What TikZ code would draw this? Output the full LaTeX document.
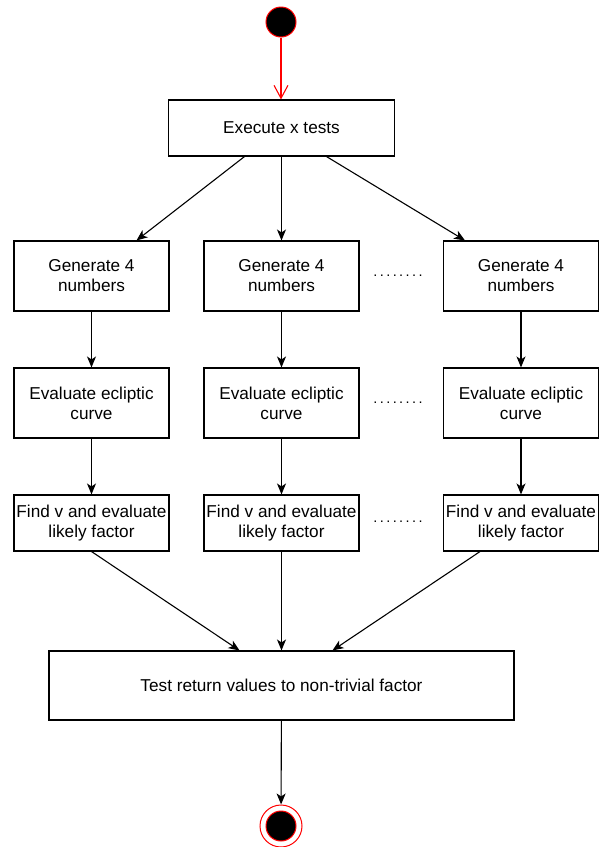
\documentclass[tikz,border=0pt]{standalone}
\usepackage{fontspec}
\setmainfont{Liberation Sans}
\usetikzlibrary{arrows.meta, positioning}

\begin{document}
\begin{tikzpicture}[x=1pt, y=-1pt,
    every node/.style={font=\fontsize{17.2}{20}\selectfont},
    box/.style={draw, line width=1.1pt, minimum width=155pt, minimum height=70pt, align=center, inner sep=0pt},
    arrow/.style={-{Stealth[length=11pt,width=9pt,inset=3pt]}, line width=1.1pt},
    startarrow/.style={-{Straight Barb[length=13pt,width=14pt]}, line width=1.1pt, draw=red},
    dotrow/.style={inner sep=0pt}
]
\useasboundingbox (0,0) rectangle (598,847);

% Start
\node[circle, draw=red, fill=black, line width=1pt, minimum size=30pt] (start) at (281,22) {};

% Execute
\node[box, minimum width=226pt, minimum height=56pt] (exec) at (281.5,128) {Execute x tests};

% Generate
\node[box] (gen1) at (91.5,276) {Generate 4\\numbers};
\node[box] (gen2) at (281.5,276) {Generate 4\\numbers};
\node[box] (gen3) at (521,276) {Generate 4\\numbers};

% Evaluate
\node[box] (eval1) at (91.5,403) {Evaluate ecliptic\\curve};
\node[box] (eval2) at (281.5,403) {Evaluate ecliptic\\curve};
\node[box] (eval3) at (521,403) {Evaluate ecliptic\\curve};

% Find v
\node[box, minimum height=56pt] (find1) at (91.5,523) {Find v and evaluate\\likely factor};
\node[box, minimum height=56pt] (find2) at (281.5,523) {Find v and evaluate\\likely factor};
\node[box, minimum height=56pt] (find3) at (521,523) {Find v and evaluate\\likely factor};

% Dots
\node[dotrow, font=\fontsize{14.5}{20}\selectfont] (dots1) at (398,276) {.\,.\,.\,.\,.\,.\,.\,.};
\node[dotrow, font=\fontsize{14.5}{20}\selectfont] (dots2) at (398,403) {.\,.\,.\,.\,.\,.\,.\,.};
\node[dotrow, font=\fontsize{14.5}{20}\selectfont] (dots3) at (398,522) {.\,.\,.\,.\,.\,.\,.\,.};

% Test
\node[box, minimum width=465pt, minimum height=69pt] (test) at (281.5,685.5) {Test return values to non-trivial factor};

% Stop
\node[circle, draw=red, line width=1pt, minimum size=42pt] (stop) at (281,826) {};
\node[circle, draw=red, fill=black, line width=1pt, minimum size=30pt] (stopdot) at (stop) {};

\draw[startarrow] (start.south) -- (exec.north -| start);
\draw[arrow] ([xshift=-37pt]exec.south) -- ([xshift=45pt]gen1.north);
\draw[arrow] (exec.south) -- (gen2.north);
\draw[arrow] ([xshift=45pt]exec.south) -- ([xshift=-56pt]gen3.north);

\draw[arrow] (gen1) -- (eval1);
\draw[arrow] (gen2) -- (eval2);
\draw[arrow] (gen3) -- (eval3);
\draw[arrow] (eval1) -- (find1);
\draw[arrow] (eval2) -- (find2);
\draw[arrow] (eval3) -- (find3);

\draw[arrow] (find1.south) -- ([xshift=-42pt]test.north);
\draw[arrow] (find2.south) -- (test.north);
\draw[arrow] ([xshift=-41pt]find3.south) -- ([xshift=51pt]test.north);
\draw[arrow] (test) -- (stop);

\end{tikzpicture}
\end{document}
